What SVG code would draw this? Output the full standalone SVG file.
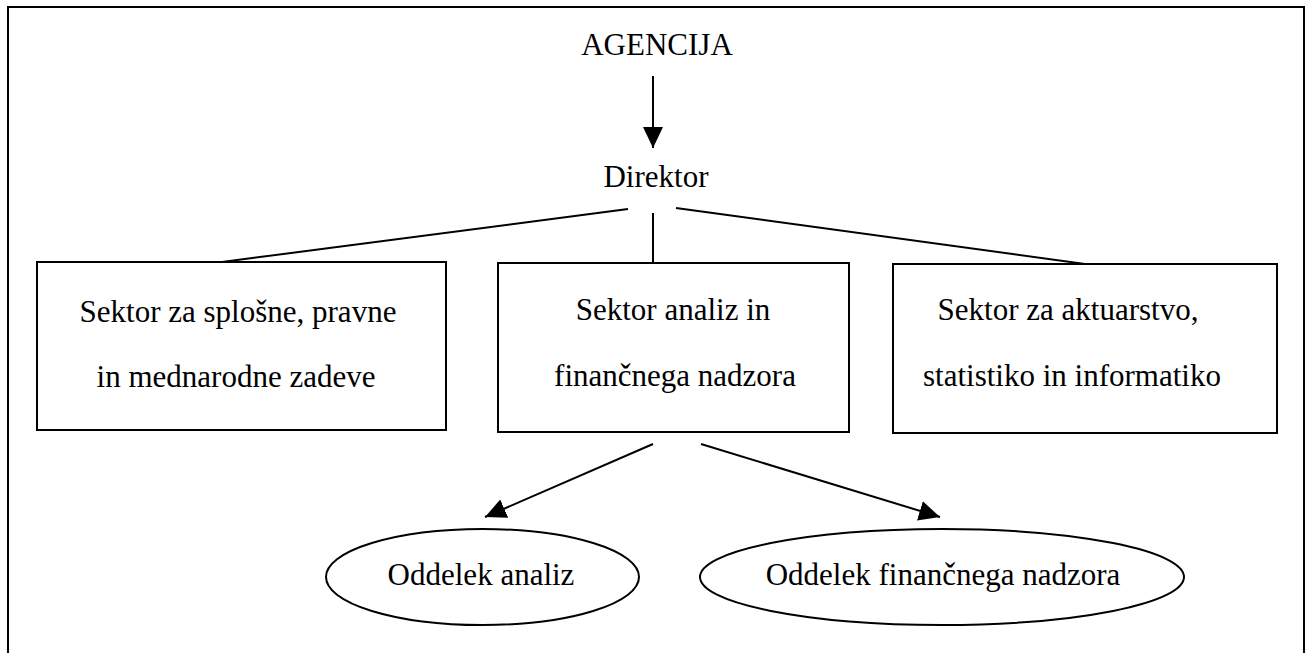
<svg xmlns="http://www.w3.org/2000/svg" width="1310" height="653" viewBox="0 0 1310 653">
<style>
text{font-family:"Liberation Serif","Times New Roman",serif;font-size:31px;fill:#000;text-anchor:middle}
.box{fill:#fff;stroke:#000;stroke-width:2}
.ln{stroke:#000;stroke-width:2;fill:none}
</style>
<defs>
<marker id="ah" markerUnits="userSpaceOnUse" markerWidth="22" markerHeight="22" viewBox="0 0 22 22" refX="21" refY="11" orient="auto">
<path d="M0,1 L21,11 L0,21 Z" fill="#000"/>
</marker>
</defs>
<rect x="8" y="7" width="1296" height="660" fill="none" stroke="#000" stroke-width="2"/>
<g id="connectors">
<line class="ln" x1="653" y1="76" x2="653" y2="148" marker-end="url(#ah)"/>
<line class="ln" x1="628" y1="209" x2="222" y2="262"/>
<line class="ln" x1="653" y1="213" x2="653" y2="263"/>
<line class="ln" x1="676" y1="208" x2="1085" y2="264"/>
<line class="ln" x1="653" y1="444" x2="485" y2="517" marker-end="url(#ah)"/>
<line class="ln" x1="701" y1="444" x2="940" y2="517" marker-end="url(#ah)"/>
</g>
<g id="agencija"><text x="657" y="55">AGENCIJA</text></g>
<g id="direktor"><text x="656" y="187">Direktor</text></g>
<g id="sektor1">
<rect class="box" x="37" y="262" width="409" height="168"/>
<text x="238" y="322">Sektor za splošne, pravne</text>
<text x="236" y="387">in mednarodne zadeve</text>
</g>
<g id="sektor2">
<rect class="box" x="498" y="263" width="351" height="169"/>
<text x="673" y="320">Sektor analiz in</text>
<text x="675" y="386">finančnega nadzora</text>
</g>
<g id="sektor3">
<rect class="box" x="893" y="264" width="384" height="169"/>
<text x="1068" y="320">Sektor za aktuarstvo,</text>
<text x="1072" y="386">statistiko in informatiko</text>
</g>
<g id="oddelek1">
<ellipse class="box" cx="482.5" cy="577" rx="156.5" ry="48"/>
<text x="481" y="585">Oddelek analiz</text>
</g>
<g id="oddelek2">
<ellipse class="box" cx="942" cy="577" rx="242" ry="48"/>
<text x="943" y="585">Oddelek finančnega nadzora</text>
</g>
</svg>
